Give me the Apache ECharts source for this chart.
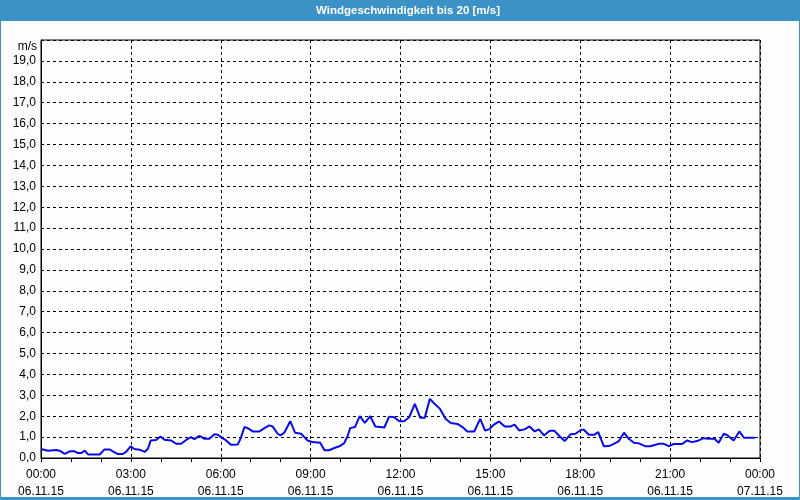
<!DOCTYPE html>
<html>
<head>
<meta charset="utf-8">
<script src="https://cdn.jsdelivr.net/npm/echarts@6/dist/echarts.min.js"></script>
<style>html,body{margin:0;padding:0;background:#fcfefc;}#c{width:800px;height:500px;}</style>
</head>
<body>
<div id="c"></div>
<script>
// Hours since 06.11.15 00:00
const hours = [0,0.23,0.51,0.62,0.79,0.96,1.12,1.23,1.35,1.46,1.57,1.96,2.12,2.29,2.4,2.57,2.73,2.84,2.99,3.12,3.29,3.46,3.57,3.66,3.84,3.99,4.12,4.34,4.51,4.68,4.9,5.01,5.12,5.29,5.46,5.62,5.79,5.9,6.01,6.18,6.34,6.57,6.66,6.79,6.9,7.07,7.29,7.46,7.62,7.73,7.9,7.99,8.12,8.32,8.48,8.68,8.9,9.07,9.32,9.46,9.62,9.79,9.96,10.12,10.23,10.32,10.48,10.64,10.81,10.99,11.16,11.46,11.62,11.79,11.96,12.12,12.29,12.48,12.66,12.81,12.98,13.12,13.32,13.51,13.68,13.9,14.07,14.23,14.46,14.66,14.82,14.96,15.12,15.29,15.48,15.68,15.81,15.96,16.14,16.31,16.48,16.62,16.79,16.98,17.14,17.32,17.48,17.68,17.84,18.03,18.12,18.29,18.46,18.6,18.79,18.96,19.12,19.29,19.46,19.62,19.79,19.96,20.18,20.34,20.51,20.62,20.79,20.96,21.12,21.4,21.57,21.73,21.9,22.12,22.29,22.48,22.62,22.79,22.92,23.12,23.31,23.46,23.83];
const speeds = [0.43,0.35,0.38,0.35,0.2,0.32,0.32,0.24,0.24,0.35,0.17,0.17,0.41,0.41,0.32,0.19,0.19,0.29,0.56,0.43,0.4,0.29,0.44,0.84,0.86,1.03,0.87,0.84,0.68,0.68,0.92,1.0,0.9,1.06,0.92,0.92,1.14,1.11,1.0,0.84,0.63,0.65,0.92,1.48,1.43,1.27,1.27,1.43,1.56,1.51,1.16,1.08,1.21,1.76,1.21,1.16,0.84,0.76,0.73,0.37,0.37,0.48,0.56,0.71,1.03,1.43,1.48,2.0,1.68,2.0,1.51,1.46,1.98,1.95,1.76,1.76,1.95,2.59,1.92,1.92,2.83,2.62,2.35,1.87,1.67,1.63,1.48,1.27,1.27,1.87,1.32,1.37,1.6,1.75,1.51,1.51,1.6,1.32,1.37,1.51,1.27,1.37,1.08,1.3,1.3,1.03,0.81,1.14,1.16,1.35,1.35,1.11,1.11,1.24,0.56,0.57,0.68,0.81,1.21,0.92,0.73,0.7,0.56,0.56,0.63,0.68,0.68,0.57,0.67,0.67,0.84,0.76,0.81,0.95,0.92,0.92,0.73,1.16,1.08,0.84,1.27,0.97,0.97];
const dayLabels = ['06.11.15','07.11.15'];
const titleText = 'Windgeschwindigkeit bis 20 [m/s]';
const unitText = 'm/s';

const FONT = '"Liberation Sans", Arial, sans-serif';
const chart = echarts.init(document.getElementById('c'));
const pad = n => (n < 10 ? '0' : '') + n;
chart.setOption({
  backgroundColor: '#fcfefc',
  animation: false,
  grid: { left: 41, right: 40, top: 40, bottom: 39, show: true, borderColor: '#000', borderWidth: 1 },
  xAxis: {
    type: 'value', min: 0, max: 24, interval: 3,
    axisLine: { show: true, lineStyle: { color: '#000', width: 1 } },
    axisTick: { show: true, length: 4, lineStyle: { color: '#000' } },
    minorTick: { show: true, splitNumber: 3, length: 4, lineStyle: { color: '#000' } },
    splitLine: { show: true, lineStyle: { color: '#000', type: [3, 3], width: 1 } },
    axisLabel: {
      color: '#000', fontFamily: FONT, fontSize: 12, lineHeight: 17, margin: 8,
      showMaxLabel: true, showMinLabel: true,
      formatter: v => pad(v % 24) + ':00\n' + dayLabels[v < 24 ? 0 : 1]
    }
  },
  yAxis: {
    type: 'value', min: 0, max: 20, interval: 1,
    axisLine: { show: true, lineStyle: { color: '#000', width: 1 } },
    axisTick: { show: false },
    splitLine: { show: true, lineStyle: { color: '#000', type: [3, 3], width: 1 } },
    axisLabel: {
      color: '#000', fontFamily: FONT, fontSize: 12, margin: 5, padding: [4, 0, 0, 0],
      formatter: v => v >= 20 ? '' : v.toFixed(1).replace('.', ',')
    }
  },
  series: [{
    type: 'line',
    data: hours.map((h, i) => [h, speeds[i]]),
    showSymbol: false,
    lineStyle: { color: '#0a0ae8', width: 2 },
    itemStyle: { color: '#0a0ae8' }
  }],
  graphic: [
    { type: 'rect', silent: true, shape: { x: 0, y: 0, width: 800, height: 21 }, style: { fill: '#3c91c6' } },
    { type: 'text', silent: true, x: 408, y: 11, style: { text: titleText, fill: '#fff', font: 'bold 11.5px ' + FONT, align: 'center', verticalAlign: 'middle' } },
    { type: 'text', silent: true, x: 37, y: 47, style: { text: unitText, fill: '#000', font: '12px ' + FONT, align: 'right', verticalAlign: 'middle' } },
    { type: 'rect', silent: true, shape: { x: 0.5, y: 0.5, width: 799, height: 498 }, style: { fill: null, stroke: '#3c91c6', lineWidth: 1 } },
    { type: 'rect', silent: true, shape: { x: 0, y: 497, width: 800, height: 3 }, style: { fill: '#3c91c6' } }
  ]
});
</script>
</body>
</html>
